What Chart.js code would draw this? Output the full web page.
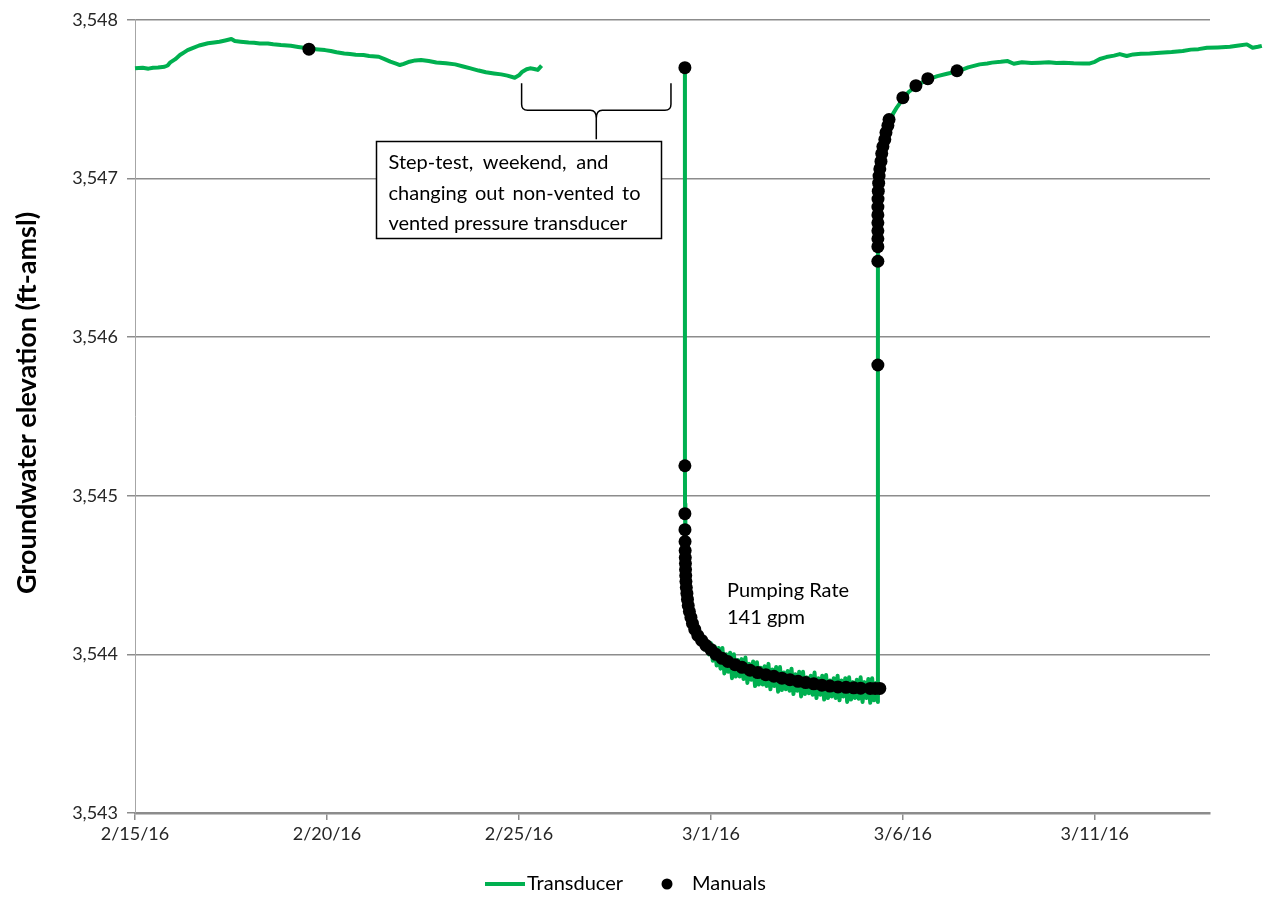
<!DOCTYPE html>
<html>
<head>
<meta charset="utf-8">
<script src="https://cdn.jsdelivr.net/npm/chart.js@4.4.1/dist/chart.umd.min.js"></script>
<style>
  body { margin: 0; background: #fff; }
</style>
</head>
<body>
<canvas id="chart" width="1268" height="898"></canvas>
<script>
// x values are days after 2/15/16
const xTickDays = [0, 5, 10, 15, 20, 25];
const xTickLabels = ['2/15/16', '2/20/16', '2/25/16', '3/1/16', '3/6/16', '3/11/16'];
const yTicks = [3543, 3544, 3545, 3546, 3547, 3548];

// transducer record before the step test
const transducerPre = [
  [0.0, 3547.694], [0.2, 3547.698], [0.35, 3547.692], [0.47, 3547.698], [0.6, 3547.700],
  [0.77, 3547.704], [0.85, 3547.712], [0.91, 3547.730], [1.05, 3547.752], [1.17, 3547.778],
  [1.28, 3547.795], [1.37, 3547.809], [1.5, 3547.822], [1.67, 3547.838], [1.8, 3547.846],
  [1.9, 3547.852], [2.06, 3547.857], [2.2, 3547.862], [2.35, 3547.870], [2.51, 3547.879],
  [2.6, 3547.866], [2.75, 3547.862], [2.96, 3547.857], [3.1, 3547.855], [3.25, 3547.851],
  [3.46, 3547.851], [3.6, 3547.846], [3.8, 3547.841], [4.06, 3547.836], [4.25, 3547.829],
  [4.4, 3547.824], [4.52, 3547.819], [4.7, 3547.815], [4.95, 3547.809], [5.1, 3547.803],
  [5.25, 3547.795], [5.45, 3547.788], [5.6, 3547.784], [5.75, 3547.780], [5.95, 3547.778],
  [6.1, 3547.772], [6.35, 3547.767], [6.5, 3547.752], [6.65, 3547.736], [6.8, 3547.724],
  [6.9, 3547.715], [7.0, 3547.722], [7.15, 3547.736], [7.3, 3547.744], [7.45, 3547.747],
  [7.65, 3547.740], [7.85, 3547.731], [8.1, 3547.726], [8.34, 3547.719], [8.55, 3547.706],
  [8.74, 3547.694], [8.95, 3547.680], [9.14, 3547.669], [9.35, 3547.662], [9.54, 3547.656],
  [9.7, 3547.648], [9.89, 3547.635], [10.0, 3547.650], [10.09, 3547.673], [10.2, 3547.688],
  [10.29, 3547.694], [10.4, 3547.690], [10.49, 3547.684], [10.59, 3547.711]
];

// transducer record for the constant-rate test and recovery
const transducerTest = [
  [14.323, 3547.698], [14.324, 3545.20], [14.326, 3544.95], [14.33, 3544.80], [14.34, 3544.66],
  [14.355, 3544.53], [14.375, 3544.42], [14.40, 3544.33], [14.43, 3544.27], [14.47, 3544.22],
  [14.52, 3544.18], [14.58, 3544.14], [14.65, 3544.10], [14.72, 3544.08], [14.80, 3544.07],
  [14.85, 3544.03], [14.90, 3544.08], [14.95, 3544.00],
  [15.00, 3544.07], [15.05, 3543.96], [15.10, 3544.05], [15.15, 3543.93], [15.20, 3544.04],
  [15.25, 3543.91], [15.30, 3544.04], [15.35, 3543.88], [15.40, 3544.00], [15.45, 3543.89],
  [15.50, 3544.01], [15.55, 3543.85], [15.60, 3544.00], [15.65, 3543.86], [15.70, 3543.965],
  [15.75, 3543.86], [15.80, 3543.97], [15.85, 3543.845], [15.90, 3543.98], [15.95, 3543.82],
  [16.00, 3543.94], [16.05, 3543.84], [16.10, 3543.955], [16.15, 3543.80], [16.20, 3543.95],
  [16.25, 3543.81], [16.30, 3543.915], [16.35, 3543.81], [16.40, 3543.925], [16.45, 3543.80],
  [16.50, 3543.94], [16.55, 3543.78], [16.60, 3543.905], [16.65, 3543.80], [16.70, 3543.92],
  [16.75, 3543.765], [16.80, 3543.92], [16.85, 3543.775], [16.90, 3543.885], [16.95, 3543.78],
  [17.00, 3543.895], [17.05, 3543.77], [17.10, 3543.91], [17.15, 3543.75], [17.20, 3543.875],
  [17.25, 3543.77], [17.30, 3543.89], [17.35, 3543.735], [17.40, 3543.89], [17.45, 3543.75],
  [17.50, 3543.855], [17.55, 3543.755], [17.60, 3543.865], [17.65, 3543.745], [17.70, 3543.885],
  [17.75, 3543.725], [17.80, 3543.85], [17.85, 3543.745], [17.90, 3543.865], [17.95, 3543.715],
  [18.00, 3543.87], [18.05, 3543.725], [18.10, 3543.835], [18.15, 3543.735], [18.20, 3543.85],
  [18.25, 3543.725], [18.30, 3543.865], [18.35, 3543.71], [18.40, 3543.835], [18.45, 3543.735],
  [18.50, 3543.85], [18.55, 3543.70], [18.60, 3543.855], [18.65, 3543.715], [18.70, 3543.825],
  [18.75, 3543.725], [18.80, 3543.84], [18.85, 3543.72], [18.90, 3543.855], [18.95, 3543.70],
  [19.00, 3543.825], [19.05, 3543.725], [19.10, 3543.845], [19.15, 3543.695], [19.20, 3543.85],
  [19.25, 3543.71], [19.30, 3543.82], [19.349, 3543.70],
  [19.35, 3546.45], [19.351, 3546.60], [19.353, 3546.75], [19.357, 3546.88], [19.365, 3546.96],
  [19.38, 3547.02], [19.40, 3547.07], [19.43, 3547.115], [19.46, 3547.16], [19.50, 3547.21],
  [19.55, 3547.26], [19.60, 3547.31], [19.66, 3547.36], [19.75, 3547.41], [19.85, 3547.45],
  [20.0, 3547.50], [20.15, 3547.545], [20.34, 3547.58], [20.5, 3547.605], [20.65, 3547.625],
  [20.9, 3547.645], [21.15, 3547.66], [21.43, 3547.675], [21.7, 3547.70], [22.0, 3547.719],
  [22.2, 3547.725], [22.32, 3547.730], [22.55, 3547.735], [22.73, 3547.740], [22.89, 3547.723],
  [23.1, 3547.732], [23.35, 3547.728], [23.57, 3547.730], [23.8, 3547.733], [24.0, 3547.727],
  [24.19, 3547.730], [24.45, 3547.726], [24.7, 3547.724], [24.87, 3547.725], [25.0, 3547.735],
  [25.13, 3547.753], [25.3, 3547.765], [25.5, 3547.774], [25.65, 3547.784], [25.83, 3547.772],
  [26.0, 3547.782], [26.2, 3547.786], [26.43, 3547.788], [26.7, 3547.793], [27.0, 3547.797],
  [27.29, 3547.803], [27.5, 3547.812], [27.7, 3547.815], [27.92, 3547.824], [28.2, 3547.826],
  [28.52, 3547.830], [28.75, 3547.838], [28.96, 3547.845], [29.11, 3547.824], [29.25, 3547.830],
  [29.35, 3547.836]
];

// hand measurements
const manuals = [
  [4.53, 3547.815],
  [14.323, 3547.698], [14.323, 3545.189], [14.323, 3544.887], [14.325, 3544.786], [14.327, 3544.711],
  [14.33, 3544.654], [14.333, 3544.610], [14.337, 3544.572], [14.34, 3544.535], [14.345, 3544.497],
  [14.35, 3544.459], [14.36, 3544.421], [14.375, 3544.384], [14.39, 3544.346], [14.41, 3544.308],
  [14.44, 3544.270], [14.48, 3544.233], [14.52, 3544.195], [14.58, 3544.157], [14.66, 3544.119],
  [14.76, 3544.088], [14.87, 3544.057], [15.0, 3544.030], [15.13, 3544.000], [15.29, 3543.975],
  [15.44, 3543.955], [15.63, 3543.935], [15.81, 3543.918], [16.02, 3543.900], [16.22, 3543.885],
  [16.43, 3543.872], [16.64, 3543.862], [16.85, 3543.850], [17.06, 3543.840], [17.27, 3543.830],
  [17.47, 3543.822], [17.68, 3543.814], [17.89, 3543.806], [18.10, 3543.800], [18.31, 3543.795],
  [18.52, 3543.792], [18.72, 3543.789], [18.90, 3543.787], [19.15, 3543.785], [19.28, 3543.785],
  [19.40, 3543.785],
  [19.349, 3545.824], [19.349, 3546.478], [19.349, 3546.570], [19.349, 3546.620], [19.349, 3546.670],
  [19.349, 3546.720], [19.349, 3546.770], [19.350, 3546.820], [19.353, 3546.870], [19.36, 3546.920],
  [19.37, 3546.970], [19.38, 3547.015], [19.40, 3547.060], [19.43, 3547.107], [19.45, 3547.157],
  [19.48, 3547.201], [19.53, 3547.245], [19.56, 3547.289], [19.61, 3547.333], [19.64, 3547.371],
  [20.0, 3547.509], [20.34, 3547.585], [20.65, 3547.629], [21.41, 3547.679]
];

const yTitle = 'Groundwater elevation (ft-amsl)';
const noteLines = ['Step-test, weekend, and', 'changing out non-vented to', 'vented pressure transducer'];
const rateLines = ['Pumping Rate', '141 gpm'];

const toXY = arr => arr.map(([x, y]) => ({ x, y }));

Chart.defaults.font.family = 'Lato, "Open Sans", sans-serif';
Chart.defaults.color = '#262626';

// spread words so a line fills the given width
function justify(ctx, text, x, y, width) {
  const words = text.split(' ');
  const total = words.reduce((s, w) => s + ctx.measureText(w).width, 0);
  const gap = Math.max(ctx.measureText(' ').width, (width - total) / (words.length - 1));
  let cx = x;
  words.forEach(w => { ctx.fillText(w, cx, y); cx += ctx.measureText(w).width + gap; });
}

const extras = {
  id: 'extras',
  afterDraw(chart) {
    const { ctx, scales: { x, y } } = chart;
    ctx.save();

    // axis title
    ctx.save();
    ctx.fillStyle = '#000';
    ctx.font = 'bold 27px Lato';
    ctx.textAlign = 'center';
    ctx.textBaseline = 'middle';
    ctx.translate(27, 403);
    ctx.rotate(-Math.PI / 2);
    ctx.fillText(yTitle, 0, 0);
    ctx.restore();

    // brace over the data gap
    const bl = x.getPixelForValue(10.07), br = x.getPixelForValue(13.96);
    const bt = y.getPixelForValue(3547.60);
    const mid = (bl + br) / 2, bar = bt + 27, tip = bt + 56;
    ctx.strokeStyle = '#000';
    ctx.lineWidth = 1.5;
    ctx.beginPath();
    ctx.moveTo(bl, bt);
    ctx.lineTo(bl, bar - 6);
    ctx.quadraticCurveTo(bl, bar, bl + 6, bar);
    ctx.lineTo(mid - 6, bar);
    ctx.quadraticCurveTo(mid, bar, mid, bar + 8);
    ctx.lineTo(mid, tip);
    ctx.moveTo(br, bt);
    ctx.lineTo(br, bar - 6);
    ctx.quadraticCurveTo(br, bar, br - 6, bar);
    ctx.lineTo(mid + 6, bar);
    ctx.quadraticCurveTo(mid, bar, mid, bar + 8);
    ctx.stroke();

    // note box
    const nx = Math.round(x.getPixelForValue(6.28)) + 0.5;
    const ny = Math.round(tip) + 2.5;
    ctx.fillStyle = '#fff';
    ctx.fillRect(nx, ny, 285, 97);
    ctx.strokeRect(nx, ny, 285, 97);
    ctx.fillStyle = '#000';
    ctx.font = '20px Lato';
    ctx.textAlign = 'left';
    ctx.textBaseline = 'middle';
    justify(ctx, noteLines[0], nx + 12, ny + 21, 220);
    justify(ctx, noteLines[1], nx + 12, ny + 52, 252);
    ctx.fillText(noteLines[2], nx + 12, ny + 82);

    // pumping rate label
    const px = x.getPixelForValue(15.42);
    const py = y.getPixelForValue(3544.4);
    ctx.fillText(rateLines[0], px, py);
    ctx.fillText(rateLines[1], px, py + 27);

    // legend
    const ly = 884;
    ctx.strokeStyle = '#00b050';
    ctx.lineWidth = 4;
    ctx.beginPath();
    ctx.moveTo(485, ly);
    ctx.lineTo(525, ly);
    ctx.stroke();
    ctx.fillStyle = '#000';
    ctx.fillText('Transducer', 527, ly);
    ctx.beginPath();
    ctx.arc(667, ly, 5.5, 0, Math.PI * 2);
    ctx.fill();
    ctx.fillText('Manuals', 692, ly);

    ctx.restore();
  }
};

new Chart(document.getElementById('chart'), {
  type: 'scatter',
  data: {
    datasets: [
      {
        label: 'Transducer',
        data: [...toXY(transducerPre), { x: 12, y: null }, ...toXY(transducerTest)],
        showLine: true,
        spanGaps: false,
        borderColor: '#00b050',
        backgroundColor: '#00b050',
        borderWidth: 4,
        borderJoinStyle: 'round',
        pointRadius: 0,
        pointHoverRadius: 0,
        clip: false,
        order: 2
      },
      {
        label: 'Manuals',
        data: toXY(manuals),
        showLine: false,
        pointRadius: 6.5,
        pointBackgroundColor: '#000',
        pointBorderWidth: 0,
        order: 1
      }
    ]
  },
  options: {
    responsive: false,
    animation: false,
    events: [],
    layout: { padding: { top: 18, right: 58, bottom: 0, left: 0 } },
    plugins: { legend: { display: false }, tooltip: { enabled: false } },
    scales: {
      x: {
        type: 'linear',
        bounds: 'data',
        afterDataLimits(s) { s.min = 0; s.max = 28; },
        afterBuildTicks(s) { s.ticks = xTickDays.map(v => ({ value: v })); },
        afterFit(s) { s.height = 85; },
        ticks: {
          font: { size: 18 },
          padding: 3,
          maxRotation: 0,
          autoSkip: false,
          callback: v => xTickLabels[xTickDays.indexOf(v)] ?? ''
        },
        grid: { drawOnChartArea: false, color: '#8c8c8c', lineWidth: 1.5, tickLength: 7 },
        border: { color: '#8c8c8c', width: 2.5 }
      },
      y: {
        min: 3543,
        max: 3548,
        afterBuildTicks(s) { s.ticks = yTicks.map(v => ({ value: v })); },
        afterFit(s) { s.width = 135; },
        ticks: { font: { size: 18 }, padding: 9 },
        grid: { color: '#8c8c8c', lineWidth: 1.5, tickLength: 8 },
        border: { color: '#a6a6a6', width: 1 }
      }
    }
  },
  plugins: [extras]
});
</script>
</body>
</html>
